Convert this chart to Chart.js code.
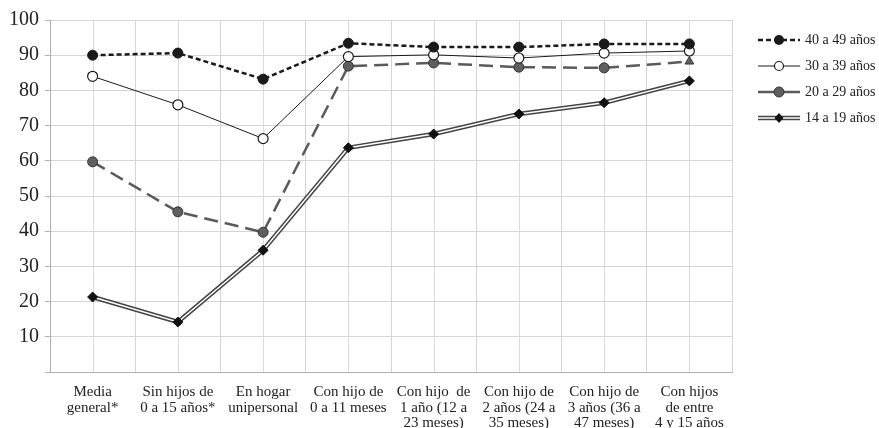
<!DOCTYPE html>
<html>
<head>
<meta charset="utf-8">
<script src="https://cdn.jsdelivr.net/npm/chart.js@4"></script>
<style>
  body { margin: 0; background: #fff; }
  #wrap { width: 879px; height: 428px; }
</style>
</head>
<body>
<div id="wrap"><canvas id="myChart" width="879" height="428"></canvas></div>
<script>
// categorias del eje x (en varias lineas)
const categorias = [
    ["Media", "general*"],
    ["Sin hijos de", "0 a 15 años*"],
    ["En hogar", "unipersonal"],
    ["Con hijo de", "0 a 11 meses"],
    ["Con hijo  de", "1 año (12 a", "23 meses)"],
    ["Con hijo de", "2 años (24 a", "35 meses)"],
    ["Con hijo de", "3 años (36 a", "47 meses)"],
    ["Con hijos", "de entre", "4 y 15 años"]
];

const etiquetas = ["40 a 49 años", "30 a 39 años", "20 a 29 años", "14 a 19 años"];

const edad40 = [90.0, 90.6, 83.2, 93.4, 92.3, 92.3, 93.2, 93.2];
const edad30 = [84.0, 75.9, 66.3, 89.6, 90.1, 89.2, 90.6, 91.2];
const edad20 = [59.7, 45.5, 39.7, 86.9, 87.8, 86.6, 86.4, 88.2];
const edad14 = [21.3, 14.2, 34.6, 63.7, 67.6, 73.3, 76.5, 82.7];

const fuente = "'Liberation Serif', 'DejaVu Serif', serif";

// leyenda dibujada a mano (linea + marcador)
const leyendaPlugin = {
    id: 'leyenda',
    afterDraw(chart) {
        const ctx = chart.ctx;
        const x0 = 758, x1 = 800, xm = 779;
        const ys = [40, 66, 92, 118];
        ctx.save();
        ctx.font = "14px " + fuente;
        ctx.textBaseline = 'middle';
        ctx.fillStyle = '#222';

        // 40 a 49
        let y = ys[0];
        ctx.setLineDash([5, 3]);
        ctx.strokeStyle = '#1a1a1a';
        ctx.lineWidth = 2.5;
        ctx.beginPath(); ctx.moveTo(x0, y); ctx.lineTo(x1, y); ctx.stroke();
        ctx.setLineDash([]);
        ctx.beginPath(); ctx.arc(xm, y, 5, 0, Math.PI * 2);
        ctx.fillStyle = '#1a1a1a'; ctx.fill();

        // 30 a 39
        y = ys[1];
        ctx.lineWidth = 1;
        ctx.beginPath(); ctx.moveTo(x0, y); ctx.lineTo(x1, y); ctx.stroke();
        ctx.beginPath(); ctx.arc(xm, y, 4.5, 0, Math.PI * 2);
        ctx.fillStyle = '#fff'; ctx.fill();
        ctx.lineWidth = 1.2; ctx.stroke();

        // 20 a 29
        y = ys[2];
        ctx.strokeStyle = '#5a5a5a';
        ctx.lineWidth = 2.5;
        ctx.beginPath(); ctx.moveTo(x0, y); ctx.lineTo(x1, y); ctx.stroke();
        ctx.beginPath(); ctx.arc(xm, y, 5, 0, Math.PI * 2);
        ctx.fillStyle = '#5f5f5f'; ctx.fill();
        ctx.strokeStyle = '#333'; ctx.lineWidth = 1; ctx.stroke();

        // 14 a 19 (linea doble)
        y = ys[3];
        ctx.strokeStyle = '#444'; ctx.lineWidth = 4.5;
        ctx.beginPath(); ctx.moveTo(x0, y); ctx.lineTo(x1, y); ctx.stroke();
        ctx.strokeStyle = '#fff'; ctx.lineWidth = 1.5;
        ctx.beginPath(); ctx.moveTo(x0, y); ctx.lineTo(x1, y); ctx.stroke();
        ctx.fillStyle = '#111';
        ctx.beginPath();
        ctx.moveTo(xm, y - 5); ctx.lineTo(xm + 4.5, y); ctx.lineTo(xm, y + 5); ctx.lineTo(xm - 4.5, y);
        ctx.closePath(); ctx.fill();

        ctx.fillStyle = '#222';
        etiquetas.forEach((t, i) => ctx.fillText(t, 805, ys[i]));
        ctx.restore();
    }
};

// lineas verticales del centro de cada categoria
const lineasCentro = {
    id: 'lineasCentro',
    beforeDatasetsDraw(chart) {
        const { ctx, chartArea, scales } = chart;
        ctx.save();
        ctx.strokeStyle = '#dadada';
        ctx.lineWidth = 1;
        categorias.forEach((c, i) => {
            const px = Math.round(scales.x.getPixelForValue(i)) + 0.5;
            ctx.beginPath();
            ctx.moveTo(px, chartArea.top);
            ctx.lineTo(px, chartArea.bottom);
            ctx.stroke();
        });
        ctx.restore();
    }
};

const puntos20 = edad20.map((v, i) => i === edad20.length - 1 ? 'triangle' : 'circle');

const ctx = document.getElementById('myChart');
let myChart = new Chart(ctx, {
    type: 'line',
    data: {
        labels: categorias,
        datasets: [
            {
                label: etiquetas[0], data: edad40,
                borderColor: '#1a1a1a', borderWidth: 2.5, borderDash: [5, 3],
                pointStyle: 'circle', pointRadius: 5, pointBackgroundColor: '#1a1a1a',
                pointBorderColor: '#1a1a1a', pointBorderWidth: 1
            },
            {
                label: etiquetas[1], data: edad30,
                borderColor: '#1a1a1a', borderWidth: 1,
                pointStyle: 'circle', pointRadius: 5, pointBackgroundColor: '#fff',
                pointBorderColor: '#1a1a1a', pointBorderWidth: 1.2
            },
            {
                label: etiquetas[2], data: edad20,
                borderColor: '#5a5a5a', borderWidth: 2.5, borderDash: [14, 7],
                pointStyle: puntos20, pointRadius: 5, pointBackgroundColor: '#5f5f5f',
                pointBorderColor: '#333', pointBorderWidth: 1
            },
            {
                // marcadores 14 a 19
                label: etiquetas[3], data: edad14, showLine: false,
                pointStyle: 'rectRot', pointRadius: 5, pointBackgroundColor: '#111',
                pointBorderColor: '#111', pointBorderWidth: 1
            },
            {
                // linea blanca interior
                label: 'interior', data: edad14,
                borderColor: '#fff', borderWidth: 1.5, pointRadius: 0
            },
            {
                // linea exterior
                label: 'exterior', data: edad14,
                borderColor: '#444', borderWidth: 4.5, pointRadius: 0
            }
        ]
    },
    options: {
        responsive: false,
        animation: false,
        layout: { padding: { top: 20, right: 147, left: 0, bottom: 0 } },
        plugins: {
            legend: { display: false },
            tooltip: { enabled: false }
        },
        elements: { line: { tension: 0 } },
        scales: {
            x: {
                offset: true,
                grid: { offset: true, color: '#d4d4d4', drawTicks: false },
                border: { color: '#b0b0b0' },
                ticks: {
                    autoSkip: false, maxRotation: 0, padding: 12,
                    color: '#222', font: { family: fuente, size: 15, lineHeight: 1.05 }
                },
                afterFit(s) { s.height = 56; }
            },
            y: {
                min: 0, max: 100,
                ticks: {
                    stepSize: 5, padding: 6, color: '#222',
                    font: { family: fuente, size: 20 },
                    callback: v => (v % 10 === 0 && v !== 0) ? v : ''
                },
                grid: {
                    color: c => (c.tick && c.tick.value % 10 === 0) ? '#d4d4d4' : '#ebebeb',
                    tickColor: '#b0b0b0', tickLength: 5
                },
                border: { color: '#b0b0b0' },
                afterFit(s) { s.width = 50; }
            }
        }
    },
    plugins: [leyendaPlugin, lineasCentro]
});
</script>
</body>
</html>
